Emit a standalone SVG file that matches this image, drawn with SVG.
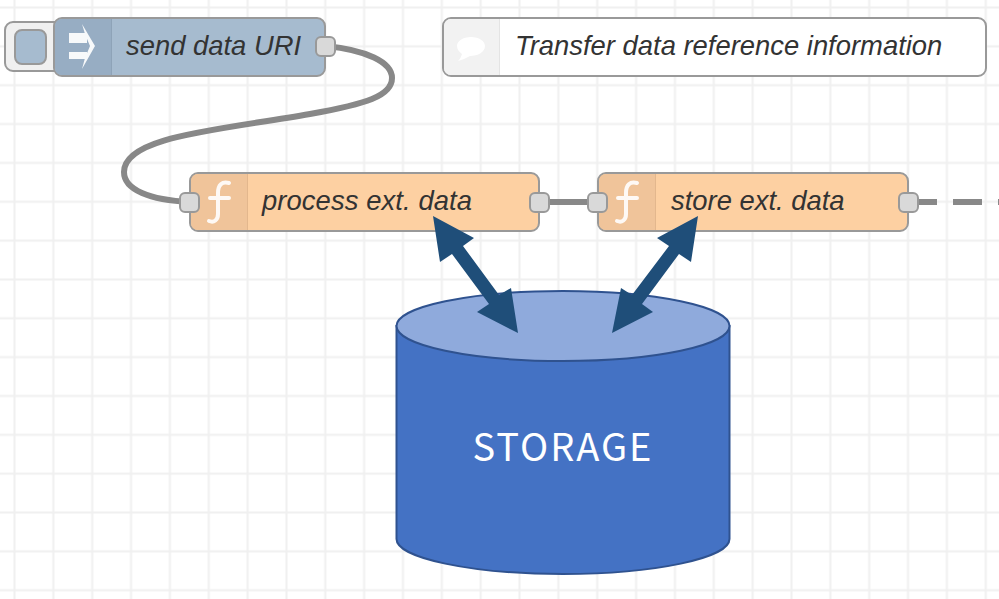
<svg xmlns="http://www.w3.org/2000/svg" width="999" height="599" viewBox="0 0 999 599">
<defs>
<pattern id="grid" x="13" y="6" width="38.85" height="38.85" patternUnits="userSpaceOnUse">
<path d="M1.500 0V38.85M0 1.500H38.85" fill="none" stroke="#f0f0f0" stroke-width="2"/>
</pattern>
</defs>
<style>
.node{stroke:#999;stroke-width:2}
.fn{fill:#fdd0a2}
.fnicon{fill:#f0c49a}
.port{fill:#d9d9d9;stroke:#999;stroke-width:2}
.wire{fill:none;stroke:#888;stroke-width:6}
.lbl{font-family:"Liberation Sans",Arial,sans-serif;font-style:italic;font-size:27.400px;fill:#333}
.fglyph{fill:none;stroke:#fff;stroke-width:4;stroke-linecap:round;opacity:.9}
.arrow{fill:#1f4e79}
</style>
<rect width="999" height="599" fill="#fff"/>
<rect width="999" height="599" fill="url(#grid)"/>
<g id="connectors">
<path class="wire" d="M326 46C366 50 392 62 392 78C392 96 366 104 310 114C220 130 124 136 124 172C124 190 150 200 190 202"/>
<path class="wire" d="M540 202H598"/>
<path class="wire" d="M908 202H999" stroke-dasharray="29 16"/>
</g>
<g id="inject">
<rect class="node" x="5" y="22" width="60" height="49" rx="8" fill="#f0f0f0"/>
<rect class="node" x="15" y="30" width="31" height="34" rx="7" fill="#a6bbcf"/>
<rect class="node" x="54" y="18" width="271" height="58" rx="8" fill="#a6bbcf"/>
<path d="M62 19H111V75H62a7 7 0 0 1-7-7V26a7 7 0 0 1 7-7Z" fill="#97adc3"/>
<path d="M111.500 19V75" stroke="#8ea3b8" stroke-width="1"/>
<path d="M69 33H87V43H69ZM69 52H87V59H69ZM82 24L95 46L82 69L85 58L90 46L85 34Z" fill="#fff" opacity=".92"/>
<text class="lbl" x="126" y="55">send data URI</text>
<rect class="port" x="316" y="37" width="19" height="19" rx="5"/>
</g>
<g id="comment">
<rect class="node" x="443" y="18" width="543" height="58" rx="8" fill="#fff"/>
<path d="M451 19H499V75H451a7 7 0 0 1-7-7V26a7 7 0 0 1 7-7Z" fill="#f2f2f2"/>
<path d="M499.500 19V75" stroke="#e4e4e4" stroke-width="1"/>
<path d="M471 37c8 0 14 4 14 9c0 6-7 10-15 10c-4 2-8 4-12 5c2-2 3-4 4-7c-3-2-5-5-5-8c0-5 6-9 14-9Z" fill="#fff"/>
<text class="lbl" x="515" y="55">Transfer data reference information</text>
</g>
<g id="process">
<rect class="node fn" x="190" y="173" width="349" height="58"  rx="8"/>
<path d="M198 174H247V230H198a7 7 0 0 1-7-7V181a7 7 0 0 1 7-7Z" class="fnicon"/>
<path d="M247.500 174V230" stroke="#e3b78d" stroke-width="1"/>
<path class="fglyph" d="M229 183C222 181 218 185 218 193V214C218 220 214 223 209 221M210 198H229"/>
<text class="lbl" x="262" y="210" textLength="210">process ext. data</text>
<rect class="port" x="180" y="193" width="19" height="19" rx="5"/>
<rect class="port" x="530" y="193" width="19" height="19" rx="5"/>
</g>
<g id="store">
<rect class="node fn" x="598" y="173" width="310" height="58" rx="8"/>
<path d="M606 174H655V230H606a7 7 0 0 1-7-7V181a7 7 0 0 1 7-7Z" class="fnicon"/>
<path d="M655.500 174V230" stroke="#e3b78d" stroke-width="1"/>
<path class="fglyph" d="M637 183C630 181 626 185 626 193V214C626 220 622 223 617 221M618 198H637"/>
<text class="lbl" x="671" y="210">store ext. data</text>
<rect class="port" x="588" y="193" width="19" height="19" rx="5"/>
<rect class="port" x="899" y="193" width="19" height="19" rx="5"/>
</g>
<g id="storage">
<path d="M396.500 326V539C396.500 558 471 574 563 574S729.500 558 729.500 539V326Z" fill="#4472c4" stroke="#2f528f" stroke-width="2"/>
<ellipse cx="563" cy="326" rx="166.500" ry="35" fill="#8faadc" stroke="#2f528f" stroke-width="2"/>
<text x="563" y="461" text-anchor="middle" font-family="'Noto Sans CJK JP','Noto Sans',sans-serif" font-weight="400" font-size="38" letter-spacing="2" fill="#fff">STORAGE</text>
</g>
<g id="arrows">
<polygon class="arrow" points="433,216 474,238 463,246 499,295 511,288 518,333 477,312 489,304 452,254 440,262"/>
<polygon class="arrow" points="698,216 691,262 679,254 642,304 653,312 612,333 621,288 632,295 669,246 657,238"/>
</g>
</svg>
